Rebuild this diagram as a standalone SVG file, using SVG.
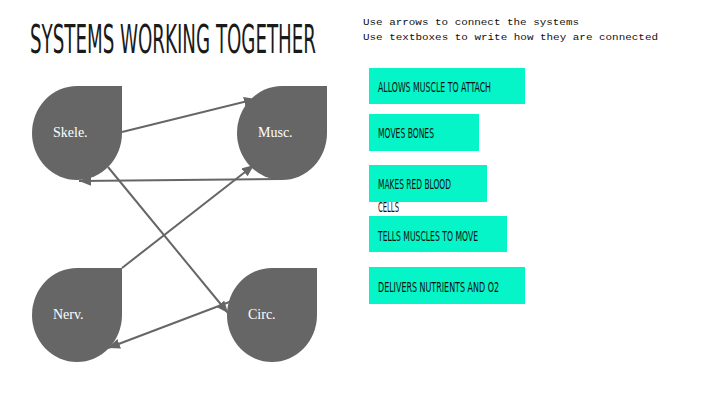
<svg xmlns="http://www.w3.org/2000/svg" width="720" height="405" viewBox="0 0 720 405">
<style>
.node{fill:#666666}
.lbl{font-family:"Liberation Serif",serif;font-size:14px;fill:#ffffff}
.box{fill:#05F5C8}
.bt{font-family:"DejaVu Sans Condensed","DejaVu Sans",sans-serif;font-stretch:condensed;font-size:14.5px;fill:#111111}
.ins{font-family:"Liberation Mono",monospace;font-size:9.5px;fill:#111111}
.con line{stroke:#666666;stroke-width:2;fill:none;marker-end:url(#ah)}
.ttl{font-family:"DejaVu Sans Condensed","DejaVu Sans",sans-serif;font-stretch:condensed;text-transform:uppercase;fill:#1a1a1a}
</style>
<defs>
<marker id="ah" markerUnits="userSpaceOnUse" markerWidth="13" markerHeight="11" refX="12" refY="5" orient="auto">
<path d="M0,0 L12,5 L0,10 Z" fill="#666666"/>
</marker>
</defs>
<rect width="720" height="405" fill="#ffffff"/>
<text class="ttl" x="30" y="53" font-size="39" textLength="286" lengthAdjust="spacingAndGlyphs">Systems working Together</text>
<text class="ins" x="363" y="25" textLength="216" lengthAdjust="spacingAndGlyphs">Use arrows to connect the systems</text>
<text class="ins" x="363" y="39.5" textLength="295" lengthAdjust="spacingAndGlyphs">Use textboxes to write how they are connected</text>

<g id="skele">
<path class="node" d="M77,86 H122 V133 A45,47 0 0 1 77,180 A45,47 0 0 1 32,133 A45,47 0 0 1 77,86 Z"/>
<text class="lbl" x="53" y="137">Skele.</text>
</g>
<g id="musc">
<path class="node" d="M282,86 H327 V133 A45,47 0 0 1 282,180 A45,47 0 0 1 237,133 A45,47 0 0 1 282,86 Z"/>
<text class="lbl" x="258" y="137">Musc.</text>
</g>
<g id="nerv">
<path class="node" d="M77,268 H122 V315 A45,47 0 0 1 77,362 A45,47 0 0 1 32,315 A45,47 0 0 1 77,268 Z"/>
<text class="lbl" x="53" y="319">Nerv.</text>
</g>
<g id="circ">
<path class="node" d="M272,268 H317 V315 A45,47 0 0 1 272,362 A45,47 0 0 1 227,315 A45,47 0 0 1 272,268 Z"/>
<text class="lbl" x="248" y="319">Circ.</text>
</g>

<g id="connectors" class="con">
<line x1="122" y1="132" x2="256" y2="99"/>
<line x1="282" y1="179" x2="79" y2="181"/>
<line x1="108" y1="167" x2="228" y2="313"/>
<line x1="122" y1="268" x2="254" y2="165"/>
<line x1="232" y1="301" x2="108" y2="348"/>
</g>

<g id="t1">
<rect class="box" x="369" y="68" width="156" height="36"/>
<text class="bt" x="378" y="92" textLength="113" lengthAdjust="spacingAndGlyphs">ALLOWS MUSCLE TO ATTACH</text>
</g>
<g id="t2">
<rect class="box" x="369" y="114" width="110" height="37"/>
<text class="bt" x="378" y="138" textLength="56" lengthAdjust="spacingAndGlyphs">MOVES BONES</text>
</g>
<g id="t3">
<rect class="box" x="369" y="165" width="118" height="37"/>
<text class="bt" x="378" y="189" textLength="73" lengthAdjust="spacingAndGlyphs">MAKES RED BLOOD</text>
<text class="bt" x="378" y="212" textLength="21" lengthAdjust="spacingAndGlyphs">CELLS</text>
</g>
<g id="t4">
<rect class="box" x="369" y="216" width="138" height="36"/>
<text class="bt" x="378" y="241" textLength="100" lengthAdjust="spacingAndGlyphs">TELLS MUSCLES TO MOVE</text>
</g>
<g id="t5">
<rect class="box" x="369" y="267" width="156" height="37"/>
<text class="bt" x="378" y="292" textLength="121" lengthAdjust="spacingAndGlyphs">DELIVERS NUTRIENTS AND O2</text>
</g>
</svg>
